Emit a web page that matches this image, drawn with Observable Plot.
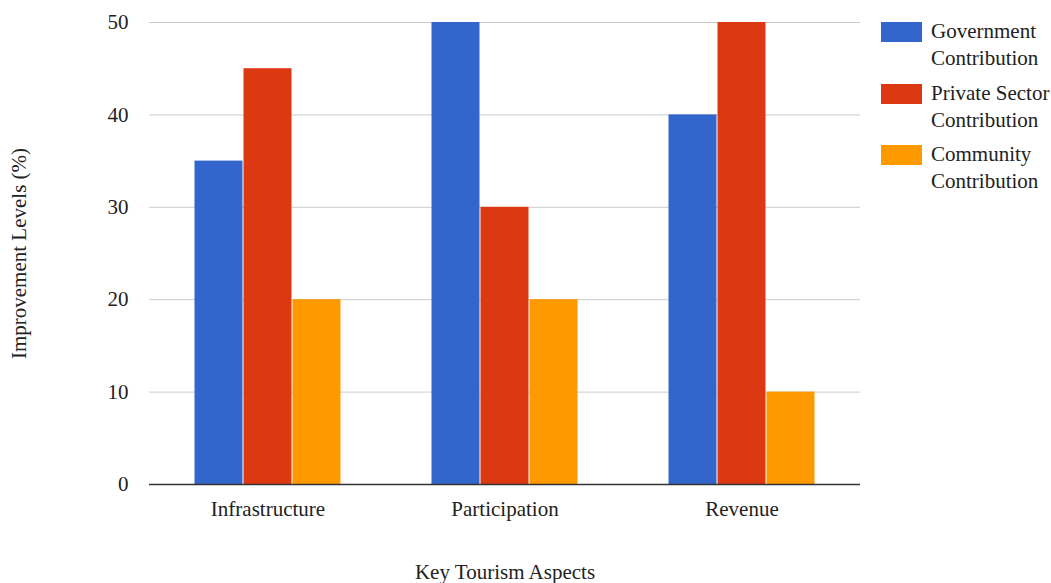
<!DOCTYPE html>
<html>
<head>
<meta charset="utf-8">
<script src="https://cdn.jsdelivr.net/npm/d3@7"></script>
<script src="https://cdn.jsdelivr.net/npm/@observablehq/plot@0.6"></script>
<style>
  html, body { margin: 0; padding: 0; background: #fff; }
  #wrap { position: relative; width: 1051px; height: 583px; font-family: "Liberation Serif", "Times New Roman", serif; }
  #legend { position: absolute; left: 881px; top: 20px; font-size: 21px; color: #222; }
  .item { display: flex; align-items: flex-start; height: 61.5px; }
  .sw { width: 41px; height: 20px; margin-top: 2px; margin-right: 9px; flex: none; }
  .lab { line-height: 27px; margin-top: -2px; white-space: nowrap; }
</style>
</head>
<body>
<div id="wrap"><div id="chart"></div><div id="legend"></div></div>
<script>
const aspects = ["Infrastructure", "Participation", "Revenue"];
const series = ["Government Contribution", "Private Sector Contribution", "Community Contribution"];
const government = [35, 50, 40];
const privateSector = [45, 30, 50];
const community = [20, 20, 10];
const colors = ["#3366cc", "#dc3912", "#ff9900"];
const yTicks = [0, 10, 20, 30, 40, 50];

const valuesBySeries = [government, privateSector, community];
const data = [];
aspects.forEach((a, i) => {
  series.forEach((s, j) => data.push({aspect: a, series: s, value: valuesBySeries[j][i]}));
});

const chart = Plot.plot({
  width: 1051,
  height: 583,
  marginLeft: 148,
  marginRight: 191,
  marginTop: 22,
  marginBottom: 99,
  style: {fontFamily: "'Liberation Serif', 'Times New Roman', serif", fontSize: "21px", color: "#222", background: "#fff"},
  fx: {domain: aspects, padding: 0, label: "Key Tourism Aspects"},
  x: {domain: series, paddingInner: 0, paddingOuter: 0.9, axis: null},
  y: {domain: [0, 50], label: "Improvement Levels (%)"},
  color: {domain: series, range: colors},
  marks: [
    Plot.ruleY(yTicks.filter(d => d > 0), {stroke: "#ccc", strokeWidth: 1}),
    Plot.barY(data, {fx: "aspect", x: "series", y: "value", fill: "series", insetLeft: 0.5, insetRight: 0.5}),
    Plot.ruleY([0], {stroke: "#333", strokeWidth: 1.5}),
    Plot.axisY({ticks: yTicks, tickSize: 0, tickPadding: 21, fontSize: 21, label: "Improvement Levels (%)", labelAnchor: "center", labelArrow: "none", labelOffset: 138}),
    Plot.axisFx({anchor: "bottom", tickSize: 0, tickPadding: 17, fontSize: 21, label: "Key Tourism Aspects", labelAnchor: "center", labelArrow: "none", labelOffset: 94})
  ]
});
document.getElementById("chart").appendChild(chart);

const legend = document.getElementById("legend");
series.forEach((s, j) => {
  const item = document.createElement("div");
  item.className = "item";
  const sw = document.createElement("div");
  sw.className = "sw";
  sw.style.background = colors[j];
  const lab = document.createElement("div");
  lab.className = "lab";
  const words = s.split(" ");
  const last = words.pop();
  lab.innerHTML = words.join(" ") + "<br>" + last;
  item.appendChild(sw);
  item.appendChild(lab);
  legend.appendChild(item);
});
</script>
</body>
</html>
